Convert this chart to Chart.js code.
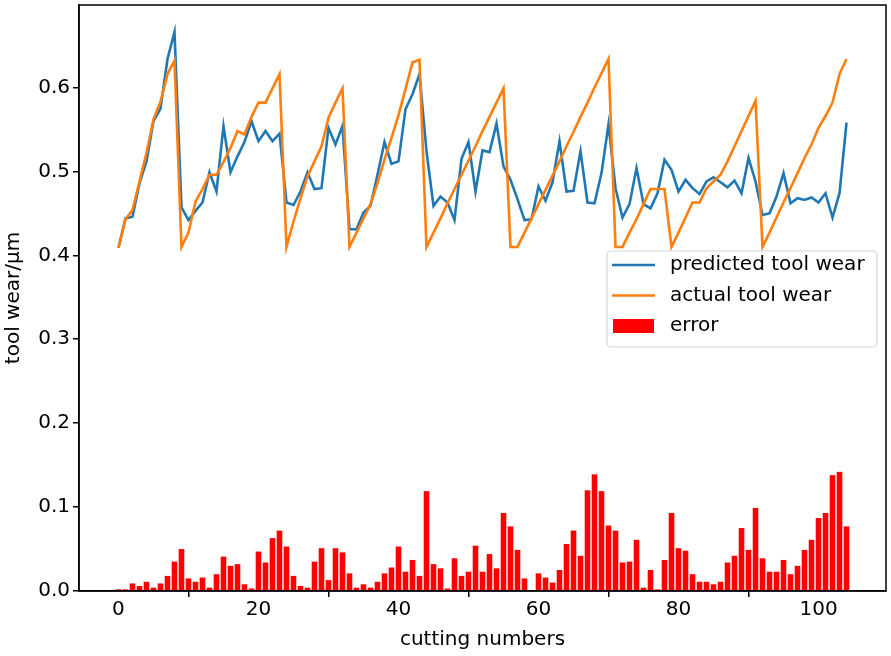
<!DOCTYPE html>
<html>
<head>
<meta charset="utf-8">
<script src="https://cdn.jsdelivr.net/npm/chart.js@4.4.1/dist/chart.umd.min.js"></script>
<style>
  html, body { margin: 0; padding: 0; background: #fff; }
  #wrap { width: 891px; height: 656px; }
</style>
</head>
<body>
<div id="wrap"><canvas id="myChart" width="891" height="656"></canvas></div>
<script>
// data

const cuts = Array.from({ length: 105 }, (_, i) => i);

const predicted = [
  0.409, 0.444, 0.446, 0.486, 0.512, 0.560, 0.575, 0.634, 0.666,
  0.457, 0.442, 0.453, 0.463, 0.499, 0.476, 0.554, 0.499, 0.518, 0.535, 0.560, 0.536, 0.548, 0.536, 0.545,
  0.463, 0.460, 0.476, 0.499, 0.479, 0.480, 0.552, 0.532, 0.554,
  0.431, 0.431, 0.451, 0.459, 0.496, 0.535, 0.509, 0.512, 0.574, 0.592, 0.616,
  0.524, 0.459, 0.470, 0.463, 0.442, 0.515, 0.535, 0.476, 0.525, 0.523, 0.557, 0.506,
  0.490, 0.467, 0.442, 0.443, 0.482, 0.465, 0.487, 0.536, 0.476, 0.477, 0.524, 0.463, 0.462, 0.498, 0.556,
  0.480, 0.445, 0.461, 0.504, 0.461, 0.456, 0.474, 0.514,
  0.502, 0.476, 0.490, 0.480, 0.473, 0.488, 0.493, 0.487, 0.481, 0.489, 0.474, 0.516, 0.488,
  0.448, 0.450, 0.470, 0.498, 0.462, 0.468, 0.466, 0.469, 0.463, 0.474, 0.445, 0.474, 0.558
];

const actual = [
  0.409, 0.443, 0.454, 0.488, 0.522, 0.562, 0.583, 0.616, 0.632,
  0.410, 0.427, 0.464, 0.479, 0.496, 0.496, 0.511, 0.528, 0.548, 0.544, 0.565, 0.582, 0.582, 0.599, 0.616,
  0.410, 0.440, 0.468, 0.494, 0.512, 0.530, 0.564, 0.582, 0.599,
  0.410, 0.427, 0.444, 0.461, 0.486, 0.514, 0.540, 0.567, 0.598, 0.630, 0.633,
  0.410, 0.427, 0.444, 0.462, 0.479, 0.496, 0.513, 0.530, 0.548, 0.565, 0.582, 0.599,
  0.410, 0.410, 0.427, 0.444, 0.461, 0.478, 0.495, 0.512, 0.530, 0.547, 0.565, 0.582, 0.600, 0.617, 0.634,
  0.410, 0.410, 0.427, 0.443, 0.461, 0.479, 0.479, 0.479,
  0.410, 0.427, 0.445, 0.463, 0.463, 0.480, 0.488, 0.496, 0.512, 0.530, 0.548, 0.566, 0.584,
  0.410, 0.427, 0.445, 0.463, 0.480, 0.498, 0.516, 0.532, 0.552, 0.566, 0.582, 0.616, 0.634
];

const error = [
  0.002, 0.002, 0.009, 0.006, 0.011, 0.004, 0.009, 0.018, 0.035,
  0.050, 0.015, 0.011, 0.016, 0.004, 0.020, 0.041, 0.030, 0.032, 0.008, 0.003, 0.047, 0.034, 0.063, 0.072,
  0.053, 0.018, 0.006, 0.004, 0.035, 0.051, 0.013, 0.051, 0.046,
  0.021, 0.004, 0.008, 0.004, 0.011, 0.021, 0.028, 0.053, 0.023, 0.037, 0.018,
  0.119, 0.032, 0.027, 0.003, 0.039, 0.018, 0.023, 0.054, 0.023, 0.044, 0.027, 0.093,
  0.077, 0.049, 0.015, 0.001, 0.021, 0.016, 0.010, 0.025, 0.056, 0.072, 0.042, 0.120, 0.139, 0.119, 0.078,
  0.072, 0.034, 0.035, 0.061, 0.004, 0.025, 0.002, 0.037,
  0.093, 0.051, 0.048, 0.020, 0.011, 0.011, 0.008, 0.011, 0.034, 0.042, 0.075, 0.049, 0.099,
  0.039, 0.023, 0.023, 0.037, 0.020, 0.030, 0.049, 0.061, 0.087, 0.093, 0.138, 0.142, 0.077
];

const xTicks = [0, 20, 40, 60, 80, 100];
const yTicks = [0.0, 0.1, 0.2, 0.3, 0.4, 0.5, 0.6];

const font = { family: 'DejaVu Sans', size: 20 };

// top/right spines + legend box on the right
const framePlugin = {
  id: 'frame',
  afterDraw(chart) {
    const { ctx, chartArea: a } = chart;
    ctx.save();
    ctx.strokeStyle = '#000';
    ctx.lineWidth = 1.5;
    ctx.strokeRect(a.left, a.top, a.right - a.left, a.bottom - a.top);

    // legend
    const w = 270, h = 96;
    const lx = a.right - 9 - w, ly = 251;
    ctx.beginPath();
    ctx.roundRect(lx, ly, w, h, 4);
    ctx.fillStyle = 'rgba(255,255,255,0.8)';
    ctx.fill();
    ctx.strokeStyle = '#d6d6d6';
    ctx.lineWidth = 1.2;
    ctx.stroke();

    const items = chart.data.datasets;
    ctx.font = '20px "DejaVu Sans"';
    ctx.textBaseline = 'middle';
    items.forEach((ds, k) => {
      const cy = ly + 14 + k * 30.5;
      if (ds.type === 'bar') {
        ctx.fillStyle = ds.backgroundColor;
        ctx.fillRect(lx + 6, cy - 7, 41, 14);
      } else {
        ctx.strokeStyle = ds.borderColor;
        ctx.lineWidth = ds.borderWidth;
        ctx.beginPath();
        ctx.moveTo(lx + 5, cy);
        ctx.lineTo(lx + 48, cy);
        ctx.stroke();
      }
      ctx.fillStyle = '#000';
      ctx.fillText(ds.label, lx + 63, cy);
    });
    ctx.restore();
  }
};

const ctx = document.getElementById('myChart').getContext('2d');
const myChart = new Chart(ctx, {
  type: 'bar',
  data: {
    datasets: [
      {
        type: 'line',
        label: 'predicted tool wear',
        data: cuts.map((c, i) => ({ x: c, y: predicted[i] })),
        borderColor: '#1f77b4',
        borderWidth: 2.6,
        pointRadius: 0,
        tension: 0,
        order: 2
      },
      {
        type: 'line',
        label: 'actual tool wear',
        data: cuts.map((c, i) => ({ x: c, y: actual[i] })),
        borderColor: '#ff7f0e',
        borderWidth: 2.6,
        pointRadius: 0,
        tension: 0,
        order: 1
      },
      {
        type: 'bar',
        label: 'error',
        data: cuts.map((c, i) => ({ x: c, y: error[i] })),
        backgroundColor: '#ff0000',
        barPercentage: 1.0,
        categoryPercentage: 0.8,
        order: 3
      }
    ]
  },
  options: {
    responsive: false,
    animation: false,
    devicePixelRatio: 1,
    layout: { padding: { top: 5, right: 5, left: 0, bottom: 0 } },
    plugins: { legend: { display: false }, tooltip: { enabled: false } },
    scales: {
      x: {
        type: 'linear',
        min: -5.64,
        max: 109.64,
        offset: false,
        afterBuildTicks: s => { s.ticks = xTicks.map(v => ({ value: v })); },
        afterFit: s => { s.height = 65; s.paddingLeft = 0; s.paddingRight = 0; },
        ticks: { font: font, color: '#000', padding: 1, maxRotation: 0 },
        grid: { drawOnChartArea: false, tickLength: 6, color: '#000', lineWidth: 1.5 },
        border: { color: '#000', width: 1.5 },
        title: { display: true, text: 'cutting numbers', font: font, color: '#000', padding: { top: 0, bottom: 4 } }
      },
      y: {
        min: 0,
        max: 0.6983,
        afterBuildTicks: s => { s.ticks = yTicks.map(v => ({ value: v })); },
        afterFit: s => { s.width = 79; s.paddingTop = 0; s.paddingBottom = 0; },
        ticks: { font: font, color: '#000', padding: 3, callback: v => v.toFixed(1) },
        grid: { drawOnChartArea: false, tickLength: 6, color: '#000', lineWidth: 1.5 },
        border: { color: '#000', width: 1.5 },
        title: { display: true, text: 'tool wear/μm', font: font, color: '#000', padding: { top: 2, bottom: 0 } }
      }
    }
  },
  plugins: [framePlugin]
});
</script>
</body>
</html>
